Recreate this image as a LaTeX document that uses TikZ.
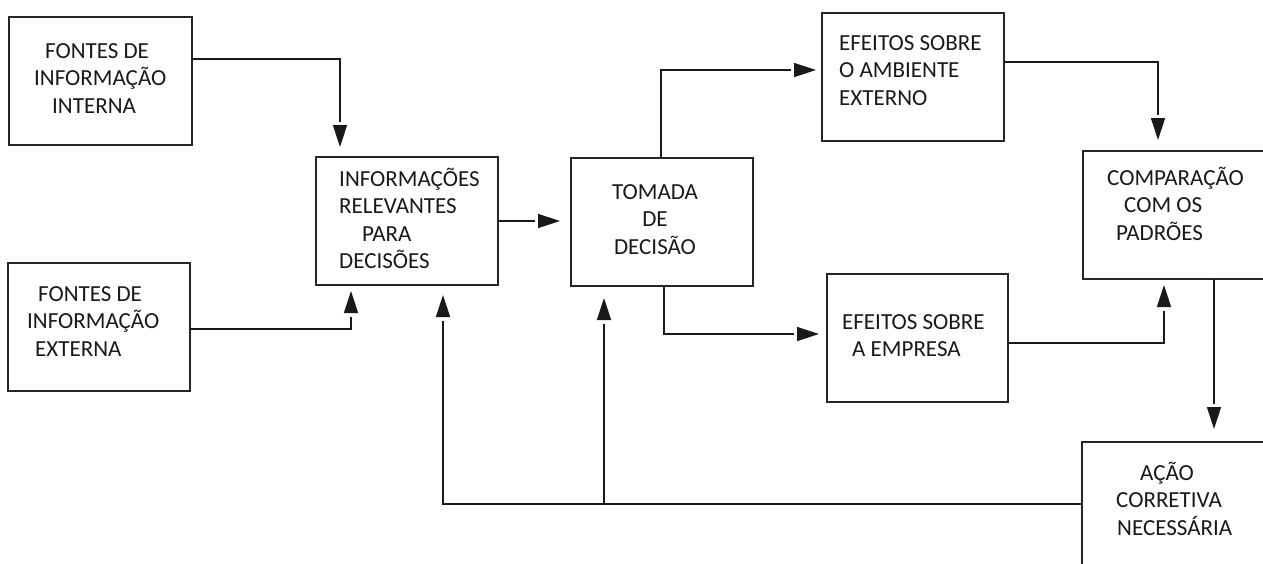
\documentclass[tikz,border=0pt]{standalone}
\usepackage{fontspec}
\setmainfont{Carlito}
\usetikzlibrary{arrows.meta,fit}
\begin{document}
\begin{tikzpicture}[x=1pt,y=-1pt,
  box/.style={draw=black!85, line width=1.5pt, inner sep=0pt, outer sep=0pt},
  txt/.style={inner sep=0pt, font=\fontsize{23}{27.5}\selectfont, text=black!90},
  arr/.style={draw=black!90, line width=1.5pt,
    -{Rectangle[length=3.5pt,width=0.2pt,white]Triangle[length=22pt,width=14pt]},
    shorten >=#1},
  arr/.default=9pt]
\useasboundingbox (0,0) rectangle (1263,563);
\clip (0,0) rectangle (1263,563);

% boxes
\node[box, fit={(9,17)(192,145)}]     (fi)  {};
\node[box, fit={(8,263)(190,391)}]    (fe)  {};
\node[box, fit={(316,157)(498,285)}]  (inf) {};
\node[box, fit={(571,158)(753,286)}]  (tom) {};
\node[box, fit={(822,13)(1004,141)}]  (amb) {};
\node[box, fit={(827,274)(1008,402)}] (emp) {};
\node[box, fit={(1083,151)(1290,279)}] (cmp) {};
\node[box, fit={(1082,442)(1290,620)}] (ac) {};

% labels
\node[txt, anchor=base west] (tfi) at (34,58)
  {\begin{tabular}[t]{@{}l@{}}\hspace*{11pt}FONTES DE\\ INFORMAÇÃO\\ \hspace*{18pt}INTERNA\end{tabular}};
\node[txt, anchor=base west] (tfe) at (27,301)
  {\begin{tabular}[t]{@{}l@{}}\hspace*{11pt}FONTES DE\\ INFORMAÇÃO\\ \hspace*{8pt}EXTERNA\end{tabular}};
\node[txt, anchor=base west] (tinf) at (339,186)
  {\begin{tabular}[t]{@{}l@{}}INFORMAÇÕES\\ RELEVANTES\\ \hspace*{23pt}PARA\\ DECISÕES\end{tabular}};
\node[txt, anchor=base] (ttom) at (655,199)
  {\begin{tabular}[t]{@{}c@{}}TOMADA\\ DE\\ DECISÃO\end{tabular}};
\node[txt, anchor=base west] (tamb) at (839,50)
  {\begin{tabular}[t]{@{}l@{}}EFEITOS SOBRE\\ O AMBIENTE\\ EXTERNO\end{tabular}};
\node[txt, anchor=base west] (temp) at (842,329)
  {\begin{tabular}[t]{@{}l@{}}EFEITOS SOBRE\\ \hspace*{10pt}A EMPRESA\end{tabular}};
\node[txt, anchor=base west] (tcmp) at (1107,185)
  {\begin{tabular}[t]{@{}l@{}}COMPARAÇÃO\\ \hspace*{17pt}COM OS\\ \hspace*{9pt}PADRÕES\end{tabular}};
\node[txt, anchor=base west] (tac) at (1116,480)
  {\begin{tabular}[t]{@{}l@{}}\hspace*{24pt}AÇÃO\\ CORRETIVA\\ \hspace*{1pt}NECESSÁRIA\end{tabular}};

% connectors
\draw[arr=10pt] ([yshift=22pt]fi.east) -| ([xshift=24pt]inf.north west);
\draw[arr=6pt]  ([yshift=-2pt]fe.east) -| ([xshift=35pt]inf.south west);
\draw[arr=11pt] (inf.east) -- (inf.east -| tom.west);
\draw[arr=6pt]  ([xshift=-1pt]tom.north) |- ([yshift=7pt]amb.west);
\draw[arr=8pt]  ([xshift=2pt]tom.south) |- ([yshift=4pt]emp.west);
\draw[arr=11pt] ([yshift=15pt]amb.east) -| ([xshift=75pt]cmp.north west);
\draw[arr=6pt]  ([yshift=-5pt]emp.east) -| ([xshift=81pt]cmp.south west);
\draw[arr=13pt] ([xshift=131pt]cmp.south west) -- ([xshift=131pt]cmp.south west |- ac.north);

% feedback from the corrective action
\coordinate (bus) at ([yshift=-62pt]ac.north west);
\draw[arr=10pt] (bus) -| ([xshift=127pt]inf.south west);
\draw[arr=12pt] ([xshift=33pt]tom.south west |- bus) -- ([xshift=33pt]tom.south west);
\end{tikzpicture}
\end{document}
